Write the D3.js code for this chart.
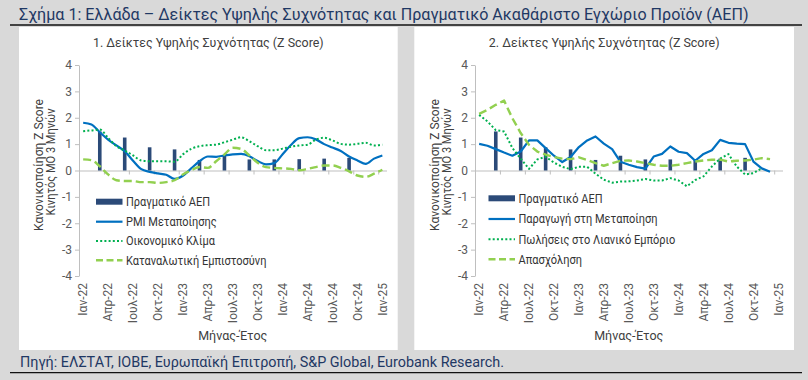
<!DOCTYPE html>
<meta charset="utf-8" />
<script src="https://cdn.jsdelivr.net/npm/d3@7"></script>
<body style="margin:0">
  <div id="chart"></div>

  <script>
    // categories: monthly, Jan-22 .. Jan-25
    const months = [
      "Ιαν-22", "Φεβ-22", "Μαρ-22", "Απρ-22", "Μαϊ-22", "Ιουν-22", "Ιουλ-22", "Αυγ-22", "Σεπ-22", "Οκτ-22", "Νοε-22", "Δεκ-22",
      "Ιαν-23", "Φεβ-23", "Μαρ-23", "Απρ-23", "Μαϊ-23", "Ιουν-23", "Ιουλ-23", "Αυγ-23", "Σεπ-23", "Οκτ-23", "Νοε-23", "Δεκ-23",
      "Ιαν-24", "Φεβ-24", "Μαρ-24", "Απρ-24", "Μαϊ-24", "Ιουν-24", "Ιουλ-24", "Αυγ-24", "Σεπ-24", "Οκτ-24", "Νοε-24", "Δεκ-24",
      "Ιαν-25"
    ];
    const tickLabels = ["Ιαν-22", "Απρ-22", "Ιουλ-22", "Οκτ-22", "Ιαν-23", "Απρ-23", "Ιουλ-23", "Οκτ-23", "Ιαν-24", "Απρ-24", "Ιουλ-24", "Οκτ-24", "Ιαν-25"];
    const yTicks = [-4, -3, -2, -1, 0, 1, 2, 3, 4];

    // quarterly real GDP (z score), shown at quarter-end month
    const gdpMonths = ["Μαρ-22", "Ιουν-22", "Σεπ-22", "Δεκ-22", "Μαρ-23", "Ιουν-23", "Σεπ-23", "Δεκ-23", "Μαρ-24", "Ιουν-24", "Σεπ-24"];
    const gdp = [1.48, 1.25, 0.88, 0.80, 0.40, 0.56, 0.42, 0.42, 0.43, 0.45, 0.48];

    // panel 1
    const pmi = [1.81, 1.74, 1.45, 1.17, 0.95, 0.73, 0.37, 0.05, -0.05, -0.11, -0.16, -0.32, -0.2, 0.08, 0.35, 0.53, 0.52, 0.57, 0.61, 0.63,
      0.54, 0.36, 0.23, 0.28, 0.62, 0.97, 1.23, 1.26, 1.18, 1.0, 0.87, 0.74, 0.53, 0.38, 0.25, 0.45, 0.57];
    const econClimate = [1.49, 1.52, 1.55, 1.24, 0.92, 0.76, 0.57, 0.38, 0.35, 0.35, 0.35, 0.33, 0.61, 0.82, 0.92, 0.96, 0.98, 1.07, 1.17, 1.26,
      1.11, 0.92, 0.77, 0.77, 0.83, 0.9, 0.95, 0.98, 1.17, 1.24, 1.14, 1.01, 0.98, 1.01, 1.05, 0.95, 0.98];
    const consumerConf = [0.42, 0.39, 0.16, -0.15, -0.37, -0.4, -0.4, -0.44, -0.44, -0.47, -0.44, -0.37, -0.15, 0.01, 0.13, 0.1, 0.35, 0.61, 0.86, 0.82,
      0.57, 0.29, 0.13, 0.1, 0.08, 0.06, 0.01, 0.06, 0.13, 0.19, 0.19, 0.1, -0.03, -0.19, -0.24, -0.12, 0.03];

    // panel 2
    const manufProd = [1.01, 0.94, 0.81, 0.68, 0.56, 0.72, 1.14, 1.14, 0.85, 0.56, 0.32, 0.51, 0.89, 1.14, 1.29, 1.02, 0.81, 0.33, 0.22, 0.13,
      0.07, 0.53, 0.63, 0.91, 0.71, 0.66, 0.37, 0.63, 0.77, 1.16, 1.05, 1.02, 1.0, 0.34, 0.08, -0.05];
    const retailSales = [2.11, 1.86, 1.53, 1.48, 0.85, 0.45, 0.06, 0.42, 0.52, 0.3, 0.14, 0.05, 0.14, 0.14, -0.12, -0.35, -0.46, -0.42, -0.41, -0.38,
      -0.32, -0.38, -0.38, -0.29, -0.38, -0.6, -0.36, -0.22, 0.15, 0.45, 0.62, 0.15, -0.15, -0.1, 0.08];
    const employment = [2.15, 2.3, 2.49, 2.65, 1.98, 1.42, 0.97, 0.72, 0.6, 0.51, 0.45, 0.43, 0.5, 0.4, 0.28, 0.18, 0.28, 0.37, 0.38, 0.34,
      0.28, 0.22, 0.18, 0.18, 0.22, 0.28, 0.34, 0.38, 0.41, 0.41, 0.34, 0.37, 0.38, 0.41, 0.47, 0.43];

    const FONT = "Roboto, 'Liberation Sans', Arial, sans-serif";
    const NAVY = "#1f3864";

    const svg = d3.select("#chart").append("svg")
      .attr("width", 808).attr("height", 380)
      .style("font-family", FONT);

    svg.append("rect").attr("width", 808).attr("height", 380).attr("fill", "#d9d9d9");

    // shrink/grow a text to a wanted width
    function fitWidth(sel, target) {
      const fs = parseFloat(sel.attr("font-size"));
      const w = sel.node().getComputedTextLength();
      sel.attr("font-size", (fs * target / w).toFixed(2));
    }
    // narrow the glyphs a bit, the original font is condensed
    function squeeze(sel, k) {
      const w = sel.node().getComputedTextLength();
      sel.attr("textLength", (w * k).toFixed(1)).attr("lengthAdjust", "spacingAndGlyphs");
    }

    // main title + rules
    const title = svg.append("text")
      .attr("x", 19).attr("y", 20)
      .attr("font-size", 14).attr("fill", NAVY)
      .text("Σχήμα 1: Ελλάδα – Δείκτες Υψηλής Συχνότητας και Πραγματικό Ακαθάριστο Εγχώριο Προϊόν (ΑΕΠ)");
    fitWidth(title, 730);
    svg.append("line").attr("x1", 10).attr("x2", 802).attr("y1", 25).attr("y2", 25)
      .attr("stroke", "#111").attr("stroke-width", 1.3);

    const footer = svg.append("text")
      .attr("x", 20).attr("y", 367)
      .attr("font-size", 13).attr("fill", NAVY)
      .text("Πηγή: ΕΛΣΤΑΤ, ΙΟΒΕ, Ευρωπαϊκή Επιτροπή, S&P Global, Eurobank Research.");
    fitWidth(footer, 484);
    svg.append("line").attr("x1", 10).attr("x2", 802).attr("y1", 372.7).attr("y2", 372.7)
      .attr("stroke", "#111").attr("stroke-width", 1.3);

    const y = d3.scaleLinear().domain([-4, 4]).range([276, 65]);

    function drawPanel(p) {
      const g = svg.append("g");
      g.append("rect").attr("x", p.left).attr("y", 27).attr("width", p.width).attr("height", 323).attr("fill", "#fff");

      const pt = g.append("text")
        .attr("x", p.left + p.width / 2).attr("y", 46.5)
        .attr("text-anchor", "middle").attr("font-size", 13).attr("fill", "#404040")
        .text(p.title);
      fitWidth(pt, 231);

      // month index scale; each month is one slot
      const x = d3.scaleLinear().domain([0, months.length]).range([p.axisX, p.axisX + 307.5]);
      const cx = m => x(months.indexOf(m) + 0.5);

      // y axis
      const ya = g.append("g")
        .attr("transform", `translate(${p.axisX},0)`)
        .call(d3.axisLeft(y).tickValues(yTicks).tickSize(4).tickSizeOuter(0).tickPadding(3).tickFormat(d3.format("d")));
      ya.select(".domain").attr("stroke", "#bfbfbf");
      ya.selectAll(".tick line").attr("stroke", "#bfbfbf");
      ya.selectAll(".tick text").attr("font-size", 12).attr("fill", "#595959").attr("font-family", FONT).text(d => d < 0 ? "-" + (-d) : d);

      // x axis on zero line, ticks every 3 months at slot borders
      const xa = g.append("g")
        .attr("transform", `translate(0,${y(0)})`)
        .call(d3.axisBottom(x).tickValues(d3.range(0, months.length, 3)).tickSize(4).tickSizeOuter(0).tickFormat(""));
      xa.select(".domain").attr("stroke", "#bfbfbf");
      xa.selectAll(".tick line").attr("stroke", "#bfbfbf");

      g.selectAll(".xl").data(tickLabels).join("text")
        .attr("transform", d => `translate(${cx(d)},283) rotate(-90)`)
        .attr("text-anchor", "end").attr("dy", "0.35em")
        .attr("font-size", 12).attr("fill", "#595959")
        .text(d => d);

      g.append("text")
        .attr("x", p.axisX + 307.5 / 2).attr("y", 340)
        .attr("text-anchor", "middle").attr("font-size", 12.5).attr("fill", "#404040")
        .text("Μήνας-Έτος");

      // y axis title, two lines
      g.append("text")
        .attr("transform", `translate(${p.axisX - 36.5},165) rotate(-90)`)
        .attr("text-anchor", "middle").attr("font-size", 13).attr("fill", "#404040")
        .attr("textLength", 132).attr("lengthAdjust", "spacingAndGlyphs")
        .text("Κανονικοποίηση Z Score");
      g.append("text")
        .attr("transform", `translate(${p.axisX - 24.5},162) rotate(-90)`)
        .attr("text-anchor", "middle").attr("font-size", 13).attr("fill", "#404040")
        .attr("textLength", 107).attr("lengthAdjust", "spacingAndGlyphs")
        .text("Κινητός ΜΟ 3 Μηνών");

      // GDP bars
      g.selectAll(".bar").data(gdp).join("rect")
        .attr("x", (d, i) => cx(gdpMonths[i]) - 1.8)
        .attr("width", 3.6)
        .attr("y", d => y(d))
        .attr("height", d => y(0) - y(d))
        .attr("fill", "#2b4a78");

      // lines
      p.series.forEach(s => {
        const line = d3.line()
          .x((d, i) => x(i + 0.5))
          .y(d => y(d))
          .curve(p.curve);
        g.append("path").datum(s.values)
          .attr("d", line)
          .attr("fill", "none")
          .attr("stroke", s.color)
          .attr("stroke-width", s.width)
          .attr("stroke-dasharray", s.dash)
          .attr("stroke-linejoin", "round");
      });

      // legend
      const lg = g.append("g");
      const entries = [{ name: "Πραγματικό ΑΕΠ", bar: true }].concat(p.series);
      entries.forEach((e, i) => {
        const ly = p.legendY[i];
        if (e.bar) {
          lg.append("rect").attr("x", p.legendX).attr("y", ly - 3).attr("width", 26.5).attr("height", 6).attr("fill", "#2b4a78");
        } else {
          lg.append("line").attr("x1", p.legendX).attr("x2", p.legendX + 26.5).attr("y1", ly).attr("y2", ly)
            .attr("stroke", e.color).attr("stroke-width", e.width)
            .attr("stroke-dasharray", e.legendDash);
        }
        const t = lg.append("text")
          .attr("x", p.legendX + 30).attr("y", ly).attr("dy", "0.35em")
          .attr("font-size", 12.5).attr("fill", "#333")
          .text(e.name);
        squeeze(t, 0.88);
      });
    }

    drawPanel({
      left: 19, width: 378.7, axisX: 79,
      title: "1. Δείκτες Υψηλής Συχνότητας (Z Score)",
      curve: d3.curveMonotoneX,
      legendX: 96, legendY: [201.7, 221.7, 241, 260.3],
      series: [
        { name: "PMI Μεταποίησης", values: pmi, color: "#0070c0", width: 2.2, dash: null, legendDash: null },
        { name: "Οικονομικό Κλίμα", values: econClimate, color: "#00b050", width: 2, dash: "2,2.2", legendDash: "2,2.2" },
        { name: "Καταναλωτική Εμπιστοσύνη", values: consumerConf, color: "#92d050", width: 2.4, dash: "8,4", legendDash: "7,3.5" }
      ]
    });

    drawPanel({
      left: 414.3, width: 379.7, axisX: 475,
      title: "2. Δείκτες Υψηλής Συχνότητας (Z Score)",
      curve: d3.curveLinear,
      legendX: 488.5, legendY: [198.3, 219, 239.3, 259.3],
      series: [
        { name: "Παραγωγή στη Μεταποίηση", values: manufProd, color: "#0070c0", width: 2.2, dash: null, legendDash: null },
        { name: "Πωλήσεις στο Λιανικό Εμπόριο", values: retailSales, color: "#00b050", width: 2, dash: "2,2.2", legendDash: "2,2.2" },
        { name: "Απασχόληση", values: employment, color: "#92d050", width: 2.4, dash: "8,4", legendDash: "7,3.5" }
      ]
    });
  </script>
</body>
